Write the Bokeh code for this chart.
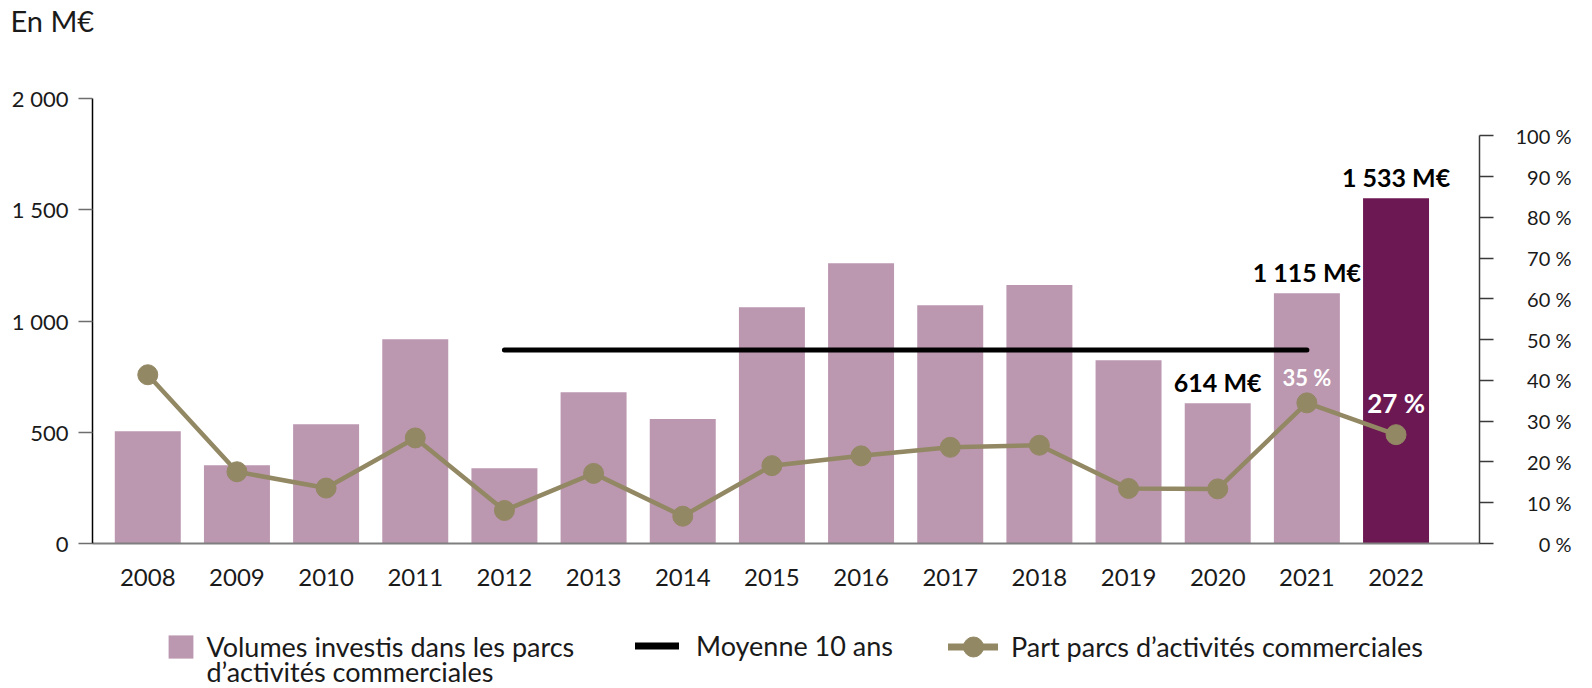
from bokeh.plotting import figure
from bokeh.layouts import column
from bokeh.models import (Range1d, LinearAxis, FixedTicker, ColumnDataSource,
                          Legend, LegendItem, Label)
from bokeh.core.properties import value
from bokeh.embed import file_html
from bokeh.resources import INLINE

# ---------------- data ----------------
years = [2008, 2009, 2010, 2011, 2012, 2013, 2014, 2015,
         2016, 2017, 2018, 2019, 2020, 2021, 2022]
volumes = [505, 352, 536, 918, 338, 680, 559, 1062,
           1260, 1071, 1162, 824, 630, 1125, 1552]
part_pct = [41.4, 17.6, 13.6, 25.9, 8.1, 17.2, 6.7, 19.1,
            21.5, 23.6, 24.1, 13.5, 13.4, 34.5, 26.7]
avg_10y = 870
avg_years = [2012, 2021]

vol_label_years = [2020, 2021, 2022]
vol_label_texts = ["614 M€", "1 115 M€", "1 533 M€"]
pct_label_years = [2021, 2022]
pct_label_texts = ["35 %", "27 %"]

left_ticks = [0, 500, 1000, 1500, 2000]
left_tick_labels = ["0", "500", "1 000", "1 500", "2 000"]
pct_ticks = [0, 10, 20, 30, 40, 50, 60, 70, 80, 90, 100]
pct_tick_labels = ["0 %", "10 %", "20 %", "30 %", "40 %", "50 %",
                   "60 %", "70 %", "80 %", "90 %", "100 %"]

legend_vol_line1 = "Volumes investis dans les parcs"
legend_vol_line2 = "d’activités commerciales"
legend_avg = "Moyenne 10 ans"
legend_part = "Part parcs d’activités commerciales"
unit_title = "En M€"

# ---------------- style ----------------
FONT = "Lato"
PINK = "#bb97b0"
DARK = "#6c1852"
OLIVE = "#938864"
TXT = "#1a1a1a"
W = 1592
FRAME_LEFT = 92
LEG_FONT = "27px"

bar_colors = [DARK if y == years[-1] else PINK for y in years]


def blank_fig(h, **kw):
    f = figure(width=W, height=h, x_range=Range1d(0, 1), y_range=Range1d(0, 1),
               x_axis_type=None, y_axis_type=None, min_border=0,
               output_backend="svg", toolbar_location=None,
               outline_line_color=None, background_fill_color="white",
               border_fill_color="white", **kw)
    f.grid.visible = False
    return f


# ---------------- title strip ----------------
tf = blank_fig(78, title=unit_title)
tf.title.text_font = FONT
tf.title.text_font_size = "29px"
tf.title.text_font_style = "normal"
tf.title.text_color = TXT
tf.title.align = "left"
tf.title.offset = -82
tf.title.standoff = 0

# ---------------- main chart ----------------
p = figure(width=W, height=538,
           x_range=Range1d(2007.38, 2022.936), y_range=Range1d(0, 2000),
           output_backend="svg", toolbar_location=None,
           min_border_left=FRAME_LEFT, min_border_right=113,
           min_border_top=20, min_border_bottom=73,
           outline_line_color=None, background_fill_color="white",
           border_fill_color="white")
p.extra_y_ranges = {"pct": Range1d(0, 109.17)}
p.grid.visible = False

src = ColumnDataSource(dict(x=years, top=volumes, color=bar_colors, pct=part_pct))
p.vbar(x="x", top="top", width=0.74, bottom=0, source=src,
       fill_color="color", line_color=None)

p.line(x=avg_years, y=[avg_10y, avg_10y], line_color="black",
       line_width=5, line_cap="round")

p.line(x="x", y="pct", source=src, y_range_name="pct",
       line_color=OLIVE, line_width=4.5)
p.scatter(x="x", y="pct", source=src, y_range_name="pct",
          size=20, marker="circle", fill_color=OLIVE, line_color=OLIVE)

vsrc = ColumnDataSource(dict(
    x=vol_label_years,
    y=[volumes[years.index(y)] for y in vol_label_years],
    t=vol_label_texts))
p.text(x="x", y="y", text="t", source=vsrc, text_font=value(FONT),
       text_font_style="bold", text_font_size="25px", text_color="black",
       text_align="center", text_baseline="middle", y_offset=-21)

pct_sizes = ["22px", "26px"]
pct_offsets = [-25, -32]
for i, yr in enumerate(pct_label_years):
    p.text(x=[yr], y=[part_pct[years.index(yr)]], text=[pct_label_texts[i]],
           y_range_name="pct", text_font=value(FONT), text_font_style="bold",
           text_font_size=pct_sizes[i], text_color="white",
           text_align="center", text_baseline="middle",
           y_offset=pct_offsets[i])

# axes
xa = p.xaxis[0]
xa.ticker = FixedTicker(ticks=years)
xa.major_label_overrides = {y: str(y) for y in years}
xa.major_tick_out = 0
xa.major_tick_in = 0
xa.minor_tick_out = 0
xa.minor_tick_in = 0
xa.axis_line_color = "#7f7f7f"
xa.axis_line_width = 2
xa.major_label_standoff = 25
xa.major_label_text_font = FONT
xa.major_label_text_font_size = "24px"
xa.major_label_text_color = TXT

ya = p.yaxis[0]
ya.ticker = FixedTicker(ticks=left_ticks)
ya.major_label_overrides = dict(zip(left_ticks, left_tick_labels))
ya.bounds = (0, 2000)
ya.axis_line_color = "black"
ya.axis_line_width = 1.5
ya.major_tick_out = 14
ya.major_tick_in = 0
ya.major_tick_line_color = "#6e6e6e"
ya.major_tick_line_width = 1.5
ya.minor_tick_out = 0
ya.minor_tick_in = 0
ya.major_label_standoff = 10
ya.major_label_text_font = FONT
ya.major_label_text_font_size = "22px"
ya.major_label_text_color = TXT

FIG = "\u2007"
ra = LinearAxis(y_range_name="pct", ticker=FixedTicker(ticks=pct_ticks))
ra.major_label_overrides = {t: FIG * (3 - len(str(t))) + lab
                            for t, lab in zip(pct_ticks, pct_tick_labels)}
ra.bounds = (0, 100)
ra.axis_line_color = "#3a3a3a"
ra.axis_line_width = 1.5
ra.major_tick_out = 14
ra.major_tick_in = 0
ra.major_tick_line_color = "#3a3a3a"
ra.major_tick_line_width = 1.5
ra.minor_tick_out = 0
ra.minor_tick_in = 0
ra.major_label_standoff = 22
ra.major_label_text_font = FONT
ra.major_label_text_font_size = "20px"
ra.major_label_text_color = TXT
p.add_layout(ra, "right")

# ---------------- legend strip ----------------
lf = blank_fig(72)
nan = float("nan")
nsrc = ColumnDataSource(dict(x=[nan], y=[nan]))
l_bar = lf.vbar(x="x", top="y", width=1, source=nsrc,
                fill_color=PINK, line_color=None)
l_avg = lf.line("x", "y", source=nsrc, line_color="black",
                line_width=7, line_cap="round")
l_part = lf.line("x", "y", source=nsrc, line_color=OLIVE,
                 line_width=7, line_cap="round")
l_dot = lf.scatter("x", "y", source=nsrc, marker="circle",
                   fill_color=OLIVE, line_color=OLIVE)


def add_legend(item, page_x, vy, gw, gh, standoff):
    lg = Legend(items=[item], location=(page_x - FRAME_LEFT, vy),
                orientation="horizontal",
                glyph_width=gw, glyph_height=gh, label_height=gh,
                label_standoff=standoff, padding=0, margin=0, spacing=0,
                border_line_color=None, background_fill_alpha=0,
                label_text_font=FONT, label_text_font_size=LEG_FONT,
                label_text_color=TXT)
    lf.add_layout(lg, "center")


add_legend(LegendItem(label=legend_vol_line1, renderers=[l_bar]),
           165.4, 25.5, 31, 29, 10)
add_legend(LegendItem(label=legend_avg, renderers=[l_avg]),
           635, 25.8, 44, 23, 17)
add_legend(LegendItem(label=legend_part, renderers=[l_part, l_dot]),
           948, 14.5, 50, 55, 13)

lf.add_layout(Label(x=206 - FRAME_LEFT, y=16.8, x_units="screen", y_units="screen",
                    text=legend_vol_line2, text_font=FONT,
                    text_font_size=LEG_FONT, text_color=TXT,
                    text_baseline="middle", text_align="left"))

layout = column(tf, p, lf, spacing=0)
open("out.html", "w").write(file_html(layout, INLINE))
